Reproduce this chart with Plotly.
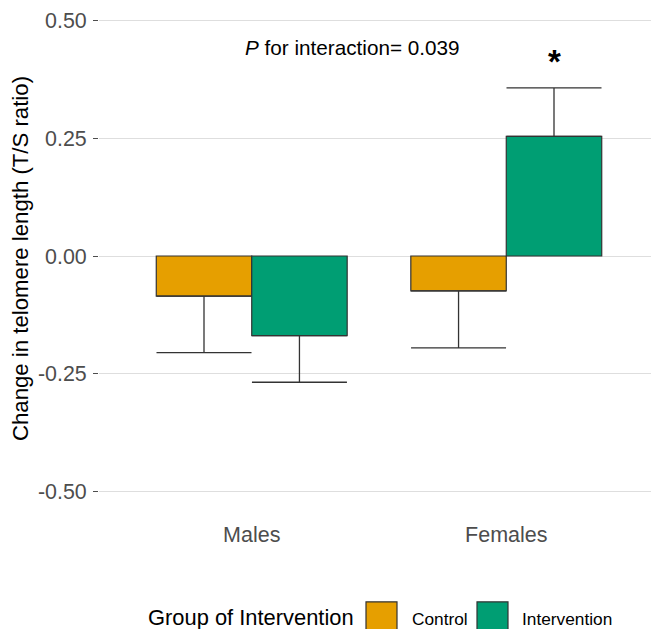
import plotly.graph_objects as go

# ---- data ----
groups = ["Males", "Females"]
series_names = ["Control", "Intervention"]
control_vals = [-0.085, -0.074]
control_err = [0.120, 0.121]
interv_vals = [-0.169, 0.254]
interv_err = [0.099, 0.103]
y_ticks = [-0.50, -0.25, 0.00, 0.25, 0.50]
y_ticklabels = ["-0.50", "-0.25", "0.00", "0.25", "0.50"]
colors = ["#E69F00", "#009E73"]

FONT = "Liberation Sans, Arial, sans-serif"

# the page body adds an 8px offset; size/position the figure in page pixels
OFF = 8
PAGE_W, PAGE_H = 659, 629
PL, PT, PH = 99, 10.5, 496          # plot area left/top/height in page pixels
W_FIG, H_FIG = PAGE_W - OFF, PAGE_H - OFF
L = PL - OFF
T = PT - OFF
PW = PAGE_W - PL


def split_err(vals, errs):
    up = [e if v >= 0 else 0 for v, e in zip(vals, errs)]
    down = [e if v < 0 else 0 for v, e in zip(vals, errs)]
    return up, down


fig = go.Figure()
for name, vals, errs, col in [
    (series_names[0], control_vals, control_err, colors[0]),
    (series_names[1], interv_vals, interv_err, colors[1]),
]:
    up, down = split_err(vals, errs)
    fig.add_trace(go.Bar(
        x=groups, y=vals, name=name,
        marker=dict(color=col, line=dict(color="#333333", width=1.2)),
        error_y=dict(type="data", symmetric=False, array=up, arrayminus=down,
                     color="#333333", thickness=1.3, width=47.5),
        showlegend=False,
    ))


def px(xp):
    return (xp - PL) / PW


def py(yp):
    return (PT + PH - yp) / PH


# significance star and interaction annotation
fig.add_annotation(x=1.188, y=0.412, xref="x", yref="y", text="<b>*</b>",
                   showarrow=False, font=dict(size=33, color="black", family=FONT))
fig.add_annotation(x=px(352.5), y=0.443, xref="paper", yref="y",
                   text="<i>P</i> for interaction= 0.039", showarrow=False,
                   font=dict(size=20.7, color="black", family=FONT))

# legend (drawn manually to mimic large ggplot keys)
fig.add_annotation(x=px(146), y=py(618.5), xref="paper", yref="paper", xanchor="left",
                   yanchor="middle", text="Group of Intervention", showarrow=False,
                   font=dict(size=21.9, color="black", family=FONT))
key_x = [366, 477]
label_x = [409.5, 520]
for i, name in enumerate(series_names):
    fig.add_shape(type="rect", xref="paper", yref="paper",
                  x0=px(key_x[i]), x1=px(key_x[i] + 31), y0=py(602.5), y1=py(633.5),
                  fillcolor=colors[i], line=dict(color="#333333", width=1.2))
    fig.add_annotation(x=px(label_x[i]), y=py(620), xref="paper", yref="paper",
                       xanchor="left", yanchor="middle", text=name, showarrow=False,
                       font=dict(size=17.3, color="black", family=FONT))

fig.update_layout(
    width=W_FIG, height=H_FIG,
    margin=dict(l=L, r=0, t=T, b=H_FIG - T - PH, pad=0),
    plot_bgcolor="white", paper_bgcolor="white",
    barmode="group", bargap=0.25, bargroupgap=0,
    font=dict(family=FONT),
)
fig.update_xaxes(
    range=[-0.6, 1.6], showgrid=False, zeroline=False, showline=False,
    ticks="", tickfont=dict(size=21.5, color="#4D4D4D", family=FONT),
    ticklabelstandoff=13,
)
fig.update_yaxes(
    range=[-0.5307, 0.5201], tickvals=y_ticks, ticktext=y_ticklabels,
    showgrid=True, gridcolor="#DEDEDE", gridwidth=1.2, zeroline=False, showline=False,
    ticks="outside", ticklen=5, tickwidth=1.2, tickcolor="#4D4D4D",
    tickfont=dict(size=21.4, color="#4D4D4D", family=FONT), ticklabelstandoff=2,
    title=dict(text="Change in telomere length (T/S ratio)", standoff=9,
               font=dict(size=22.2, color="black", family=FONT)),
)

fig.write_html("out.html")
